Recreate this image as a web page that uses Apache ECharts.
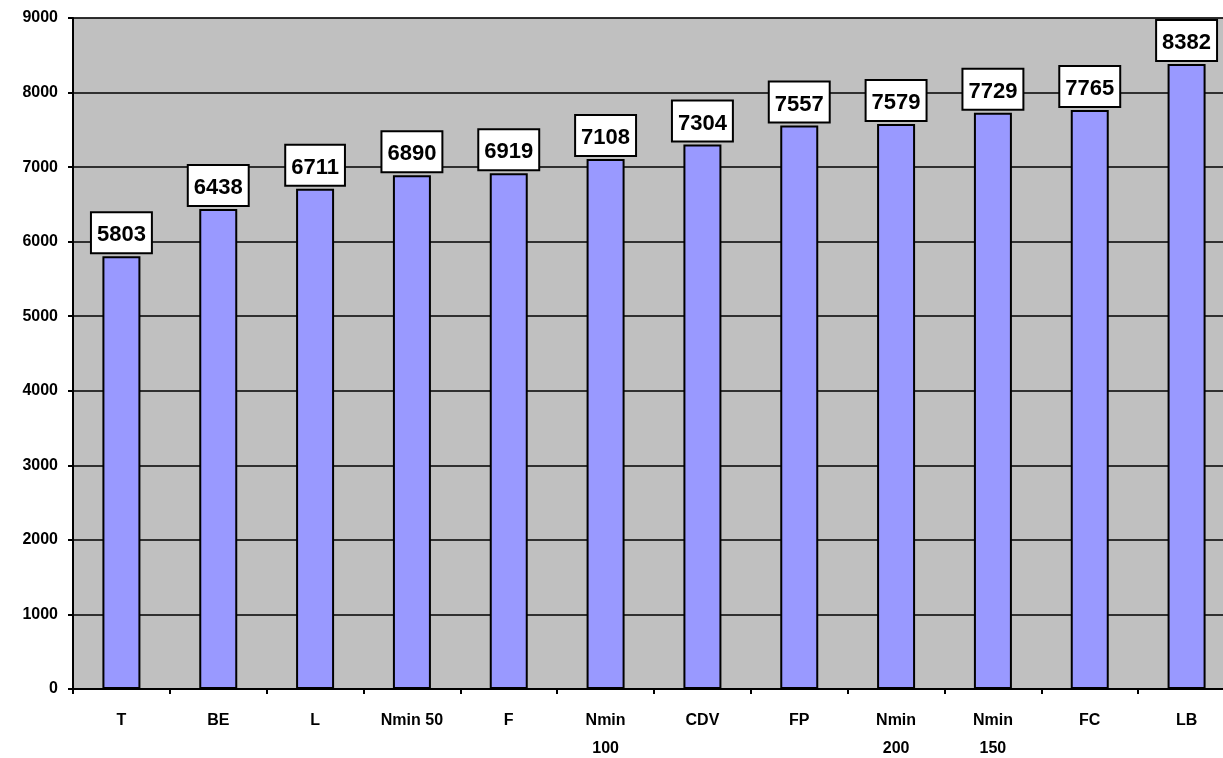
<!DOCTYPE html>
<html>
<head>
<meta charset="utf-8">
<script src="https://cdn.jsdelivr.net/npm/echarts@6/dist/echarts.min.js"></script>
<style>html,body{margin:0;padding:0;background:#fff;overflow:hidden;}#c{width:1223px;height:758px;}</style>
</head>
<body>
<div id="c"></div>
<script>
const categories = ["T", "BE", "L", "Nmin 50", "F", "Nmin\n100", "CDV", "FP", "Nmin\n200", "Nmin\n150", "FC", "LB"];
const values = [5803, 6438, 6711, 6890, 6919, 7108, 7304, 7557, 7579, 7729, 7765, 8382];
const yTicks = { min: 0, max: 9000, interval: 1000 };

const chart = echarts.init(document.getElementById('c'), null, { renderer: 'canvas' });
chart.setOption({
  animation: false,
  backgroundColor: '#ffffff',
  grid: {
    left: 73, width: 1162, top: 18, height: 671,
    outerBoundsMode: 'none',
    show: true, backgroundColor: '#C0C0C0', borderColor: '#808080', borderWidth: 1,
    containLabel: false
  },
  xAxis: {
    type: 'category',
    data: categories,
    axisLine: { show: true, lineStyle: { color: '#000', width: 2 } },
    axisTick: { show: true, length: 5, inside: false, lineStyle: { color: '#000', width: 2 } },
    axisLabel: {
      color: '#000', fontFamily: 'Liberation Sans, Arial, sans-serif', fontWeight: 'bold',
      fontSize: 16, lineHeight: 28, margin: 18, interval: 0
    }
  },
  yAxis: {
    type: 'value',
    min: yTicks.min, max: yTicks.max, interval: yTicks.interval,
    axisLine: { show: true, lineStyle: { color: '#000', width: 2 } },
    axisTick: { show: true, length: 5, inside: false, lineStyle: { color: '#000', width: 2 } },
    splitLine: { show: true, lineStyle: { color: '#000', width: 1.5 } },
    axisLabel: {
      color: '#000', fontFamily: 'Liberation Sans, Arial, sans-serif', fontWeight: 'bold',
      fontSize: 16, margin: 15, formatter: function (v) { return String(v); }
    }
  },
  series: [{
    type: 'bar',
    data: values,
    barWidth: 38,
    itemStyle: { color: '#9999FF', borderColor: '#000', borderWidth: 2 },
    label: {
      show: true, position: 'top', distance: 4,
      color: '#000', fontFamily: 'Liberation Sans, Arial, sans-serif', fontWeight: 'bold',
      fontSize: 22, lineHeight: 22,
      backgroundColor: '#fff', borderColor: '#000', borderWidth: 2,
      padding: [11, 5, 6, 5]
    }
  }]
});
</script>
</body>
</html>
